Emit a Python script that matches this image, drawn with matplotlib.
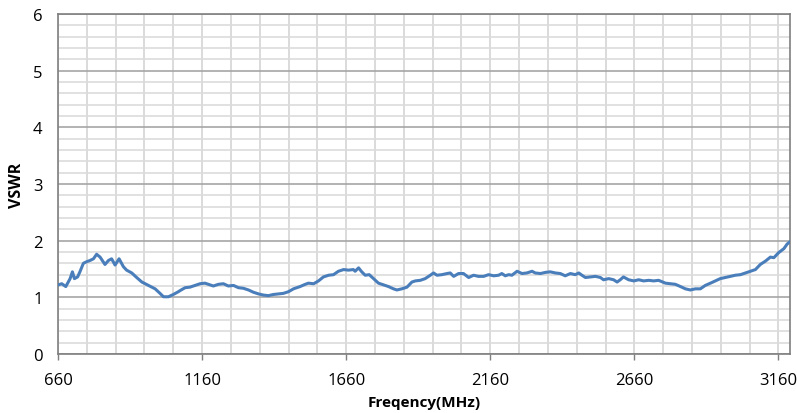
import numpy as np
import matplotlib
matplotlib.use("Agg")
import matplotlib.pyplot as plt
from matplotlib.ticker import FixedLocator, MultipleLocator

freq_mhz = [661, 673, 687, 702, 710, 717, 728, 736, 748, 760, 771, 783, 794, 806, 823, 835, 846, 858, 872,
            887, 898, 916, 933, 951, 974, 997, 1014, 1026, 1043, 1060, 1078,
            1084, 1101, 1118, 1136, 1153, 1170, 1182, 1199, 1217, 1234, 1251, 1269, 1286, 1303, 1321, 1338,
            1356, 1373, 1390, 1407, 1425, 1442, 1460, 1477,
            1500, 1518, 1529, 1547, 1564, 1581, 1599, 1616, 1633, 1651, 1668, 1685, 1691, 1703, 1714, 1726,
            1740, 1755, 1772, 1790, 1807, 1824, 1836, 1853, 1871, 1888,
            1900, 1917, 1934, 1952, 1963, 1975, 1992, 2010, 2021, 2033, 2050, 2067, 2085, 2102, 2119, 2137,
            2154, 2172, 2189, 2200, 2212, 2224, 2235, 2253, 2270, 2287, 2305,
            2316, 2334, 2351, 2368, 2386, 2403, 2420, 2438, 2455, 2467, 2478, 2490, 2507, 2525, 2542, 2553,
            2571, 2588, 2600, 2611, 2622, 2640, 2658, 2675, 2692, 2710, 2727,
            2744, 2768, 2785, 2802, 2820, 2837, 2854, 2872, 2889, 2906, 2924, 2941, 2958, 2976, 2993, 3010,
            3028, 3045, 3062, 3080, 3097, 3115, 3132, 3144, 3161, 3179, 3190, 3200]
vswr = [1.22, 1.24, 1.19, 1.33, 1.45, 1.33, 1.36, 1.45, 1.60, 1.63, 1.65, 1.68, 1.76, 1.71, 1.58, 1.65, 1.68, 1.57, 1.68,
        1.54, 1.48, 1.43, 1.35, 1.27, 1.21, 1.15, 1.07, 1.01, 1.01, 1.05, 1.10,
        1.12, 1.17, 1.18, 1.21, 1.24, 1.25, 1.23, 1.20, 1.23, 1.24, 1.20, 1.21, 1.17, 1.16, 1.13, 1.09,
        1.06, 1.04, 1.03, 1.05, 1.06, 1.07, 1.10, 1.15,
        1.19, 1.23, 1.25, 1.24, 1.29, 1.36, 1.39, 1.40, 1.46, 1.49, 1.48, 1.49, 1.46, 1.52, 1.45, 1.39,
        1.40, 1.33, 1.25, 1.22, 1.19, 1.15, 1.13, 1.15, 1.18, 1.27,
        1.29, 1.30, 1.33, 1.39, 1.43, 1.39, 1.40, 1.42, 1.43, 1.37, 1.42, 1.42, 1.35, 1.39, 1.37, 1.37,
        1.40, 1.38, 1.39, 1.42, 1.38, 1.40, 1.39, 1.46, 1.42, 1.43, 1.46,
        1.43, 1.42, 1.44, 1.45, 1.43, 1.42, 1.38, 1.42, 1.40, 1.43, 1.39, 1.35, 1.36, 1.37, 1.35, 1.31,
        1.33, 1.31, 1.27, 1.31, 1.36, 1.31, 1.29, 1.31, 1.29, 1.30, 1.29,
        1.30, 1.25, 1.24, 1.23, 1.19, 1.15, 1.13, 1.15, 1.15, 1.21, 1.25, 1.29, 1.33, 1.35, 1.37, 1.39,
        1.40, 1.43, 1.46, 1.49, 1.58, 1.64, 1.71, 1.70, 1.79, 1.86, 1.94, 1.98]

x_tick_labels = ["660", "1160", "1660", "2160", "2660", "3160"]
y_tick_labels = ["0", "1", "2", "3", "4", "5", "6"]

plt.rcParams['font.family'] = ['Open Sans', 'DejaVu Sans']

fig = plt.figure(figsize=(7.97, 4.14), dpi=100)
ax = fig.add_axes([58 / 797, 1 - 355 / 414, (790 - 58) / 797, (355 - 15) / 414])

ax.plot(freq_mhz, vswr, color='#4a7ebb', lw=2.2, solid_joinstyle='round', zorder=3)

ax.set_xlim(660, 3200)
ax.set_ylim(0, 6)

xt = [int(s) for s in x_tick_labels]
ax.xaxis.set_major_locator(FixedLocator(xt))
ax.set_xticklabels(x_tick_labels)
ax.xaxis.set_minor_locator(FixedLocator(np.arange(660, 3201, 100)))
yt = [int(s) for s in y_tick_labels]
ax.yaxis.set_major_locator(FixedLocator(yt))
ax.set_yticklabels(y_tick_labels)
ax.yaxis.set_minor_locator(MultipleLocator(0.2))

ax.grid(which='minor', axis='x', color='#d4d4d4', lw=1.2)
ax.grid(which='major', axis='x', color='#d4d4d4', lw=1.2)
ax.grid(which='minor', axis='y', color='#dcdcdc', lw=1.2)
ax.grid(which='major', axis='y', color='#a6a6a6', lw=1.2)
ax.set_axisbelow(True)

for s in ax.spines.values():
    s.set_color('#7f7f7f')
    s.set_linewidth(1.2)

ax.tick_params(axis='x', which='major', length=4, width=1, color='#7f7f7f', pad=9, labelsize=12)
ax.tick_params(axis='x', which='minor', length=0)
ax.tick_params(axis='y', which='both', length=0, pad=11, labelsize=12)

ax.set_xlabel('Freqency(MHz)', fontsize=11, fontweight='bold', labelpad=5)
ax.set_ylabel('VSWR', fontsize=11.5, fontweight='bold', labelpad=6)

fig.savefig('out.png', dpi=100)
